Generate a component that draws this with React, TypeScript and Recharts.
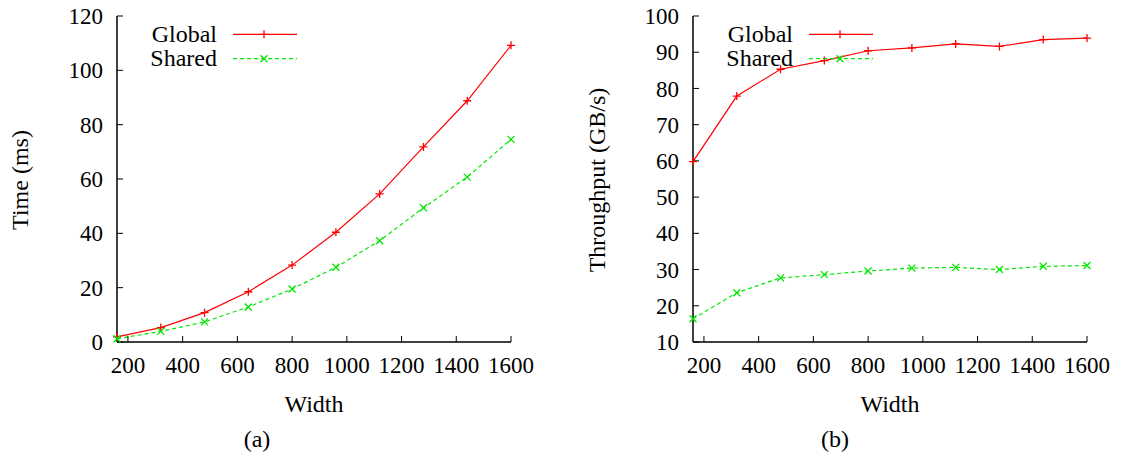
import React from 'react';
import { LineChart, Line, XAxis, YAxis, Legend } from 'recharts';

// x positions (grid width) shared by both panels
const widths = [160, 320, 480, 640, 800, 960, 1120, 1280, 1440, 1600];
const widthTicks = [200, 400, 600, 800, 1000, 1200, 1400, 1600];

// panel (a): run time in ms
const timeGlobal = [1.9, 5.3, 10.8, 18.5, 28.3, 40.4, 54.5, 71.8, 88.8, 109.2];
const timeShared = [1.2, 3.9, 7.4, 12.9, 19.5, 27.5, 37.3, 49.4, 60.7, 74.6];
const timeTicks = [0, 20, 40, 60, 80, 100, 120];

// panel (b): throughput in GB/s
const tputGlobal = [59.8, 77.9, 85.3, 87.7, 90.4, 91.2, 92.3, 91.6, 93.5, 93.9];
const tputShared = [16.4, 23.6, 27.7, 28.6, 29.6, 30.4, 30.6, 30.0, 30.9, 31.1];
const tputTicks = [10, 20, 30, 40, 50, 60, 70, 80, 90, 100];

const seriesNames = ['Global', 'Shared'];

const RED = '#ff0000';
const GREEN = '#00e800';
const FONT = '"Liberation Serif", "Times New Roman", serif';
const TICK_FS = 23;
const LABEL_FS = 24;

const W = 562;
const H = 461;

const plus = (cx: number, cy: number, key?: string) => (
  <path key={key} d={`M${cx - 4},${cy}h8M${cx},${cy - 4}v8`} stroke={RED} strokeWidth={1.3} fill="none" />
);
const cross = (cx: number, cy: number, key?: string) => (
  <path
    key={key}
    d={`M${cx - 3.5},${cy - 3.5}l7,7M${cx - 3.5},${cy + 3.5}l7,-7`}
    stroke={GREEN}
    strokeWidth={1.3}
    fill="none"
  />
);

type PanelProps = {
  left: number;
  global: number[];
  shared: number[];
  yTicks: number[];
  yLabel: string;
  caption: string;
  plotLeft: number;
  plotRight: number;
  yLabelX: number;
  captionX: number;
  legendX: number;
};

const Panel = (p: PanelProps) => {
  const data = widths.map((w, i) => ({ w, global: p.global[i], shared: p.shared[i] }));
  const yDomain = [p.yTicks[0], p.yTicks[p.yTicks.length - 1]];
  const plotTop = 16;
  const plotBottom = 342;
  const xAxisH = 40;
  const midX = (p.plotLeft + p.plotRight) / 2;
  const tickStyle = { fill: '#000', fontSize: TICK_FS, fontFamily: FONT };
  const frame = { stroke: '#000', strokeWidth: 1.5 };

  const legend = () => {
    const lx = p.legendX;
    return (
      <svg width={W} height={80} style={{ display: 'block', overflow: 'visible' }}>
        <g fontFamily={FONT} fontSize={LABEL_FS} fill="#000">
          <text x={lx} y={42} textAnchor="end">{seriesNames[0]}</text>
          <text x={lx} y={66} textAnchor="end">{seriesNames[1]}</text>
        </g>
        <line x1={lx + 16} x2={lx + 80} y1={34.3} y2={34.3} stroke={RED} strokeWidth={1.2} />
        {plus(lx + 47, 34.3)}
        <line
          x1={lx + 16}
          x2={lx + 80}
          y1={58.7}
          y2={58.7}
          stroke={GREEN}
          strokeWidth={1.2}
          strokeDasharray="4 3"
        />
        {cross(lx + 47, 58.7)}
      </svg>
    );
  };

  return (
    <div style={{ position: 'absolute', left: p.left, top: 0, width: W, height: H }}>
      <LineChart
        width={W}
        height={H}
        data={data}
        margin={{ top: plotTop, right: W - p.plotRight, left: 0, bottom: H - plotBottom - xAxisH }}
      >
        <XAxis
          dataKey="w"
          type="number"
          domain={[160, 1600]}
          ticks={widthTicks}
          height={xAxisH}
          axisLine={frame}
          tickLine={{ stroke: '#000' }}
          tickSize={-6}
          tickMargin={21}
          tick={tickStyle}
          label={() => (
            <g fontFamily={FONT} fill="#000">
              <text x={midX} y={412} textAnchor="middle" fontSize={LABEL_FS}>Width</text>
              <text x={p.captionX} y={447} textAnchor="middle" fontSize={LABEL_FS}>{p.caption}</text>
            </g>
          )}
        />
        <XAxis
          xAxisId="top"
          dataKey="w"
          type="number"
          orientation="top"
          domain={[160, 1600]}
          ticks={widthTicks}
          height={0}
          axisLine={frame}
          tickLine={{ stroke: '#000' }}
          tickSize={-6}
          tick={() => <g />}
        />
        <YAxis
          type="number"
          domain={yDomain}
          ticks={p.yTicks}
          width={p.plotLeft}
          axisLine={frame}
          tickLine={{ stroke: '#000' }}
          tickSize={-6}
          tickMargin={20}
          tick={tickStyle}
          label={() => (
            <text
              x={p.yLabelX}
              y={180}
              transform={`rotate(-90 ${p.yLabelX} 180)`}
              textAnchor="middle"
              dominantBaseline="central"
              fontFamily={FONT}
              fontSize={LABEL_FS}
              fill="#000"
            >
              {p.yLabel}
            </text>
          )}
        />
        <YAxis
          yAxisId="right"
          orientation="right"
          type="number"
          domain={yDomain}
          ticks={p.yTicks}
          width={0}
          axisLine={frame}
          tickLine={{ stroke: '#000' }}
          tickSize={-6}
          tick={() => <g />}
        />
        <Legend
          layout="vertical"
          verticalAlign="middle"
          align="center"
          wrapperStyle={{ left: 0, top: 0, width: W, height: 80 }}
          content={legend}
        />
        <Line
          name={seriesNames[0]}
          dataKey="global"
          stroke={RED}
          strokeWidth={1.2}
          isAnimationActive={false}
          dot={(d: any) => plus(d.cx, d.cy, `g${d.index}`)}
          activeDot={false}
        />
        <Line
          name={seriesNames[1]}
          dataKey="shared"
          stroke={GREEN}
          strokeWidth={1.2}
          strokeDasharray="4 3"
          isAnimationActive={false}
          dot={(d: any) => cross(d.cx, d.cy, `s${d.index}`)}
          activeDot={false}
        />
      </LineChart>
    </div>
  );
}

export default function App() {
  return (
    <div style={{ position: 'absolute', left: 0, top: 0, width: 1124, height: 461, background: '#fff' }}>
      <Panel
        left={0}
        global={timeGlobal}
        shared={timeShared}
        yTicks={timeTicks}
        yLabel="Time (ms)"
        caption="(a)"
        plotLeft={117}
        plotRight={511}
        yLabelX={20}
        captionX={257}
        legendX={217}
      />
      <Panel
        left={562}
        global={tputGlobal}
        shared={tputShared}
        yTicks={tputTicks}
        yLabel="Throughput (GB/s)"
        caption="(b)"
        plotLeft={131}
        plotRight={525}
        yLabelX={35}
        captionX={273}
        legendX={231}
      />
    </div>
  );
}
